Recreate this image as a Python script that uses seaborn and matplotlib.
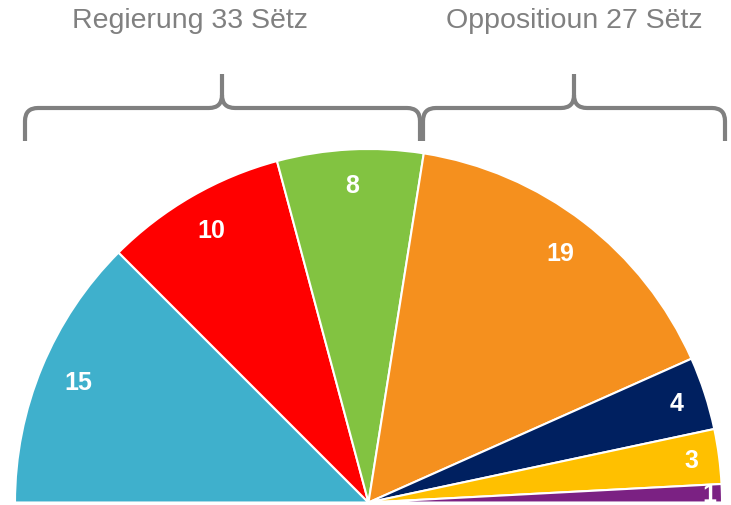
import matplotlib
matplotlib.use("Agg")
import matplotlib.pyplot as plt
import seaborn as sns
from matplotlib.path import Path
from matplotlib.patches import PathPatch
import numpy as np

# ---- data ----
parties_seats = [15, 10, 8, 19, 4, 3, 1]
party_colors = ["#3FB0CC", "#FF0000", "#82C341", "#F5901E", "#002060", "#FFC000", "#7B2183"]
group_labels = ["Regierung 33 Sëtz", "Oppositioun 27 Sëtz"]
label_dist = [0.89, 0.89, 0.90, 0.89, 0.915, 0.92, 0.965]

sns.set_theme(style="white")
plt.rcParams["font.family"] = ["Liberation Sans", "DejaVu Sans"]

W, H = 731, 506
fig = plt.figure(figsize=(W / 100, H / 100), dpi=100)
ax = fig.add_axes([0, 0, 1, 1])

cx, cy, R = 368.5, 506 - 503.5, 353.5
total = sum(parties_seats)
wedges, _ = ax.pie(parties_seats + [total], startangle=180, counterclock=False,
                   colors=party_colors + ["none"], center=(cx, cy), radius=R,
                   wedgeprops=dict(edgecolor="white", linewidth=1.5))
wedges[-1].set_visible(False)

for w, n, d in zip(wedges[:-1], parties_seats, label_dist):
    ang = np.deg2rad((w.theta1 + w.theta2) / 2)
    ax.text(cx + d * R * np.cos(ang), cy + d * R * np.sin(ang), str(n),
            color="white", fontsize=18, fontweight="bold", ha="center", va="center")


def brace(x0, xm, x1, ytop=75, yh=109, ybot=142, r=13):
    P = lambda x, y: (x, H - y)
    verts = [P(x0, ybot), P(x0, yh + r), P(x0, yh), P(x0 + r, yh),
             P(xm - r, yh), P(xm, yh), P(xm, yh - r), P(xm, ytop),
             P(xm, yh - r), P(xm, yh), P(xm + r, yh),
             P(x1 - r, yh), P(x1, yh), P(x1, yh + r), P(x1, ybot)]
    codes = [Path.MOVETO, Path.LINETO, Path.CURVE3, Path.CURVE3,
             Path.LINETO, Path.CURVE3, Path.CURVE3, Path.LINETO,
             Path.MOVETO, Path.CURVE3, Path.CURVE3,
             Path.LINETO, Path.CURVE3, Path.CURVE3, Path.LINETO]
    ax.add_patch(PathPatch(Path(verts, codes), facecolor="none",
                           edgecolor="#808080", linewidth=3, capstyle="butt"))


brace(25, 222, 420)
brace(423, 574, 725)

ax.text(190, H - 21, group_labels[0], fontsize=20.5, color="#808080", ha="center", va="center")
ax.text(574, H - 21, group_labels[1], fontsize=20.5, color="#808080", ha="center", va="center")

ax.set_xlim(0, W)
ax.set_ylim(0, H)
ax.set_aspect("auto")
ax.axis("off")
fig.savefig("out.png", dpi=100)
